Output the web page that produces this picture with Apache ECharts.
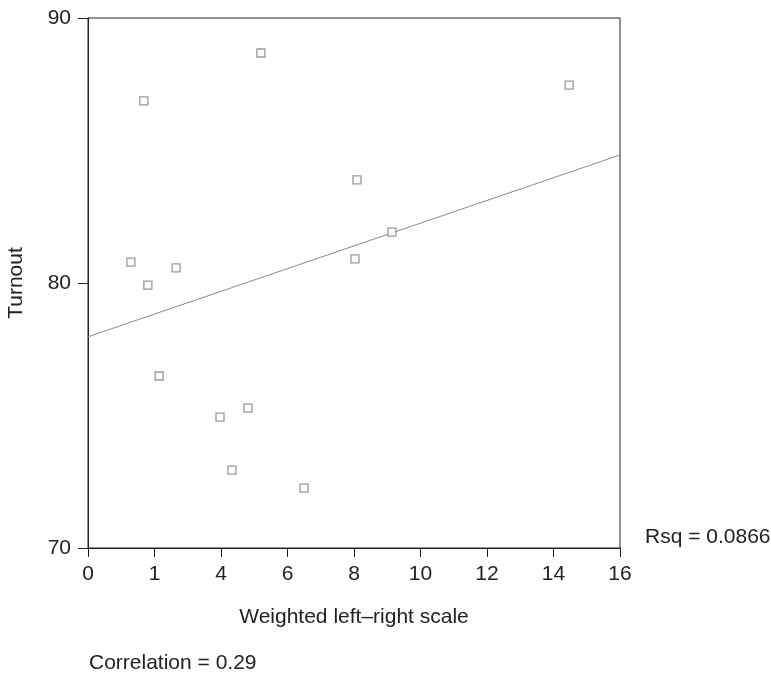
<!DOCTYPE html>
<html>
<head>
<meta charset="utf-8">
<script src="https://cdn.jsdelivr.net/npm/echarts@6/dist/echarts.min.js"></script>
<style>
  html, body { margin: 0; padding: 0; background: #fff; }
  #chart { width: 771px; height: 675px; }
</style>
</head>
<body>
<div id="chart"></div>
<script>
// points: [weighted left-right scale, turnout]
let points = [
    [5.20, 88.68], [1.68, 86.87], [14.47, 87.47], [8.09, 83.89],
    [9.14, 81.92], [1.29, 80.79], [2.65, 80.57], [8.03, 80.91],
    [1.80, 79.92], [2.14, 76.49], [3.97, 74.94], [4.81, 75.28],
    [4.33, 72.94], [6.50, 72.26]
];
// fit line end points as drawn
let fitLine = [[0, 77.97], [16, 84.83]];
// the x tick labels as printed (they are not the tick values)
let xTickValues = [0, 2, 4, 6, 8, 10, 12, 14, 16];
let xTickLabels = ['0', '1', '4', '6', '8', '10', '12', '14', '16'];

let font = 'Liberation Sans, Arial, sans-serif';
let ink = '#222';

let chart = echarts.init(document.getElementById('chart'));
let option = {
    backgroundColor: '#fff',
    animation: false,
    textStyle: { fontFamily: font },
    grid: {
        left: 88, right: 151, top: 18, bottom: 127,
        outerBoundsMode: 'none',
        containLabel: false,
        show: true,
        borderColor: ink,
        borderWidth: 1
    },
    xAxis: {
        type: 'value',
        min: 0, max: 16, interval: 2,
        name: 'Weighted left\u2013right scale',
        nameLocation: 'middle',
        nameGap: 59,
        nameTextStyle: { color: ink, fontSize: 21, fontFamily: font },
        axisLine: { show: true, onZero: false, lineStyle: { color: ink, width: 1 } },
        axisTick: { show: true, length: 9, lineStyle: { color: ink } },
        splitLine: { show: false },
        axisLabel: {
            color: ink, fontSize: 21, fontFamily: font, margin: 16,
            formatter: function (v) {
                let k = xTickValues.indexOf(v);
                return k >= 0 ? xTickLabels[k] : '';
            }
        }
    },
    yAxis: {
        type: 'value',
        min: 70, max: 90, interval: 10,
        name: 'Turnout',
        nameLocation: 'middle',
        nameGap: 61,
        nameTextStyle: { color: ink, fontSize: 21, fontFamily: font },
        axisLine: { show: true, onZero: false, lineStyle: { color: ink, width: 1 } },
        axisTick: { show: true, length: 10, lineStyle: { color: ink } },
        splitLine: { show: false },
        axisLabel: { color: ink, fontSize: 21, fontFamily: font, margin: 17 }
    },
    series: [{
        type: 'line',
        data: fitLine,
        symbol: 'none',
        lineStyle: { color: '#888', width: 1 },
        z: 1
    }, {
        type: 'scatter',
        data: points,
        symbol: 'rect',
        symbolSize: 8,
        itemStyle: { color: '#fff', borderColor: '#808080', borderWidth: 1.3 },
        z: 2
    }],
    graphic: [{
        type: 'text',
        left: 645, top: 527,
        style: { text: 'Rsq = 0.0866', fill: ink, font: '21px ' + font }
    }, {
        type: 'text',
        left: 89, top: 653,
        style: { text: 'Correlation = 0.29', fill: ink, font: '21px ' + font }
    }]
};
chart.setOption(option);
</script>
</body>
</html>
